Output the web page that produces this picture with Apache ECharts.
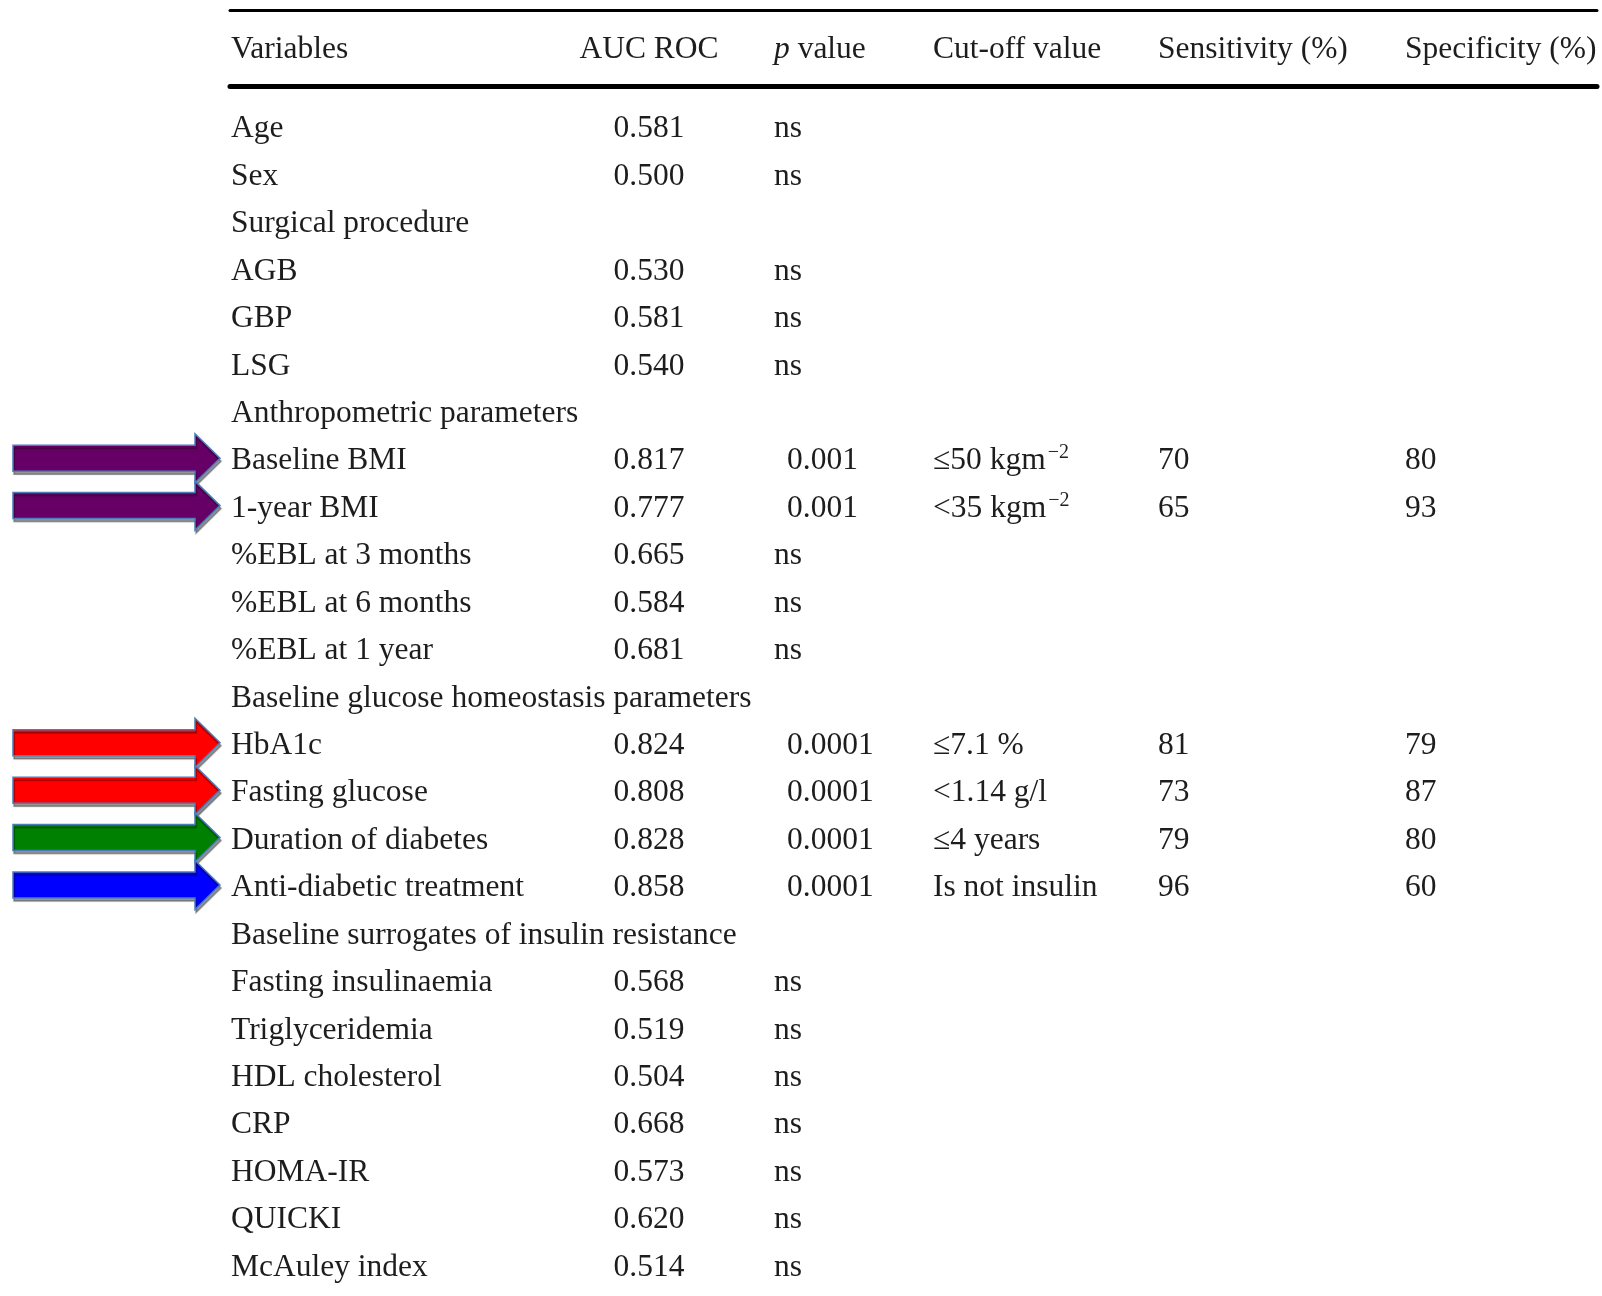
<!DOCTYPE html>
<html>
<head>
<meta charset="utf-8">
<script src="https://cdn.jsdelivr.net/npm/echarts@6/dist/echarts.min.js"></script>
<style>
  html, body { margin: 0; padding: 0; background: #ffffff; }
  #chart { width: 1602px; height: 1296px; }
</style>
</head>
<body>
<div id="chart"></div>
<script>
// ---- Table content -------------------------------------------------------
const columnHeaders = ['Variables', 'AUC ROC', 'p value', 'Cut-off value', 'Sensitivity (%)', 'Specificity (%)'];

const variables = [
  'Age', 'Sex', 'Surgical procedure', 'AGB', 'GBP', 'LSG',
  'Anthropometric parameters', 'Baseline BMI', '1-year BMI',
  '%EBL at 3 months', '%EBL at 6 months', '%EBL at 1 year',
  'Baseline glucose homeostasis parameters', 'HbA1c', 'Fasting glucose',
  'Duration of diabetes', 'Anti-diabetic treatment',
  'Baseline surrogates of insulin resistance', 'Fasting insulinaemia',
  'Triglyceridemia', 'HDL cholesterol', 'CRP', 'HOMA-IR', 'QUICKI', 'McAuley index'
];

const aucRoc = [
  0.581, 0.500, null, 0.530, 0.581, 0.540,
  null, 0.817, 0.777,
  0.665, 0.584, 0.681,
  null, 0.824, 0.808,
  0.828, 0.858,
  null, 0.568,
  0.519, 0.504, 0.668, 0.573, 0.620, 0.514
];

const pValues = [
  'ns', 'ns', null, 'ns', 'ns', 'ns',
  null, '0.001', '0.001',
  'ns', 'ns', 'ns',
  null, '0.0001', '0.0001',
  '0.0001', '0.0001',
  null, 'ns',
  'ns', 'ns', 'ns', 'ns', 'ns', 'ns'
];

// "^" marks the start of a superscript
const cutOffs = [
  null, null, null, null, null, null,
  null, '≤50 kgm^−2', '<35 kgm^−2',
  null, null, null,
  null, '≤7.1 %', '<1.14 g/l',
  '≤4 years', 'Is not insulin',
  null, null, null, null, null, null, null, null
];

const sensitivity = [
  null, null, null, null, null, null,
  null, 70, 65,
  null, null, null,
  null, 81, 73,
  79, 96,
  null, null, null, null, null, null, null, null
];

const specificity = [
  null, null, null, null, null, null,
  null, 80, 93,
  null, null, null,
  null, 79, 87,
  80, 60,
  null, null, null, null, null, null, null, null
];

// Rows flagged with an arrow, and the group each arrow belongs to
const arrowRows   = ['Baseline BMI', '1-year BMI', 'HbA1c', 'Fasting glucose', 'Duration of diabetes', 'Anti-diabetic treatment'];
const arrowGroups = ['bmi', 'bmi', 'glucose', 'glucose', 'duration', 'treatment'];

// ---- Layout & style ------------------------------------------------------
const GRID_LEFT = 230, GRID_RIGHT = 5, TABLE_W = 1602 - GRID_LEFT - GRID_RIGHT;
// column anchors along the table's horizontal scale (offset from the left rule end)
const COL_X = { variables: 1, auc: 419, pNs: 544, pNum: 557, cut: 703, sens: 928, spec: 1175 };
const ARROW = { tail: -217, headBase: -35, tip: -10, shaftHalf: 13, headHalf: 24.5, lift: -3 };
const ARROW_COLORS = { bmi: '#660066', glucose: '#ff0000', duration: '#008000', treatment: '#0000ff' };
const HEADER_TEXT_DROP = 2;

const FONT = '"Liberation Serif", "Times New Roman", serif';
const FONT_SIZE = 31.5;
const INK = '#1d1d1d';

function textEl(x, y, text, align, rich) {
  const style = {
    text: text,
    x: x, y: y,
    fill: INK,
    fontFamily: FONT,
    fontSize: FONT_SIZE,
    align: align, textAlign: align,
    verticalAlign: 'middle', textVerticalAlign: 'middle'
  };
  if (rich) style.rich = rich;
  return { type: 'text', style: style, silent: true };
}

const supRich = {
  t: { fontFamily: FONT, fontSize: FONT_SIZE, fill: INK, lineHeight: 36, verticalAlign: 'middle' },
  s: { fontFamily: FONT, fontSize: 20, fill: INK, lineHeight: 36, verticalAlign: 'top', padding: [0, 0, 0, 2] }
};

// build a column series: one text per non-empty cell, placed via the row axis
function columnSeries(values, colKey, align, formatter, xFor) {
  const cells = [];
  const texts = [];
  values.forEach((v, i) => {
    if (v === null || v === undefined) return;
    cells.push([xFor ? xFor(v) : COL_X[colKey], i]);
    texts.push(formatter ? formatter(v) : String(v));
  });
  return {
    type: 'custom',
    xAxisIndex: 0, yAxisIndex: 0,
    data: cells,
    clip: false,
    silent: true,
    renderItem: function (params, api) {
      const p = api.coord([api.value(0), api.value(1)]);
      const t = texts[params.dataIndex];
      if (t.indexOf('^') >= 0) {
        const parts = t.split('^');
        return textEl(p[0], p[1], '{t|' + parts[0] + '}{s|' + parts[1] + '}', align, supRich);
      }
      return textEl(p[0], p[1], t, align);
    }
  };
}

const headerAnchors = [
  [COL_X.variables, 'left'],
  [COL_X.auc, 'center'],
  [COL_X.pNs, 'left'],
  [COL_X.cut, 'left'],
  [COL_X.sens, 'left'],
  [COL_X.spec, 'left']
];

const headerSeries = {
  type: 'custom',
  xAxisIndex: 1, yAxisIndex: 1,
  data: headerAnchors.map(a => [a[0], 0]),
  clip: false,
  silent: true,
  renderItem: function (params, api) {
    const p = api.coord([api.value(0), api.value(1)]);
    const y = p[1] + HEADER_TEXT_DROP;
    const label = columnHeaders[params.dataIndex];
    const align = headerAnchors[params.dataIndex][1];
    if (label.indexOf('p ') === 0) {
      return textEl(p[0], y, '{i|p}{n|' + label.slice(1) + '}', align, {
        i: { fontFamily: FONT, fontSize: FONT_SIZE, fontStyle: 'italic', fill: INK },
        n: { fontFamily: FONT, fontSize: FONT_SIZE, fill: INK }
      });
    }
    return textEl(p[0], y, label, align);
  }
};

const arrowSeries = {
  type: 'custom',
  xAxisIndex: 0, yAxisIndex: 0,
  data: arrowRows.map(r => [0, variables.indexOf(r)]),
  clip: false,
  silent: true,
  renderItem: function (params, api) {
    const row = api.value(1);
    const y = api.coord([0, row])[1] + ARROW.lift;
    const xt = api.coord([ARROW.tail, row])[0];
    const xb = api.coord([ARROW.headBase, row])[0];
    const xp = api.coord([ARROW.tip, row])[0];
    const pts = [
      [xt, y - ARROW.shaftHalf], [xb, y - ARROW.shaftHalf], [xb, y - ARROW.headHalf],
      [xp, y], [xb, y + ARROW.headHalf], [xb, y + ARROW.shaftHalf], [xt, y + ARROW.shaftHalf]
    ];
    return {
      type: 'polygon',
      shape: { points: pts },
      style: {
        fill: ARROW_COLORS[arrowGroups[params.dataIndex]],
        stroke: '#4a7ebb',
        lineWidth: 1.5,
        shadowColor: 'rgba(0,0,0,0.4)',
        shadowBlur: 1,
        shadowOffsetX: 1,
        shadowOffsetY: 3
      }
    };
  }
};

const hiddenValueAxis = (gridIndex, extra) => Object.assign({
  type: 'value', gridIndex: gridIndex, min: 0, max: TABLE_W,
  axisLabel: { show: false }, axisTick: { show: false }, splitLine: { show: false }
}, extra);

const option = {
  backgroundColor: '#ffffff',
  animation: false,
  grid: [
    // table body
    { left: GRID_LEFT, right: GRID_RIGHT, top: 105.5, bottom: 4.9 },
    // header band between the two rules
    { left: GRID_LEFT, right: GRID_RIGHT, top: 10, height: 76 }
  ],
  xAxis: [
    hiddenValueAxis(0, { show: false }),
    hiddenValueAxis(1, { position: 'bottom', axisLine: { show: true, onZero: false, lineStyle: { color: '#000', width: 5 } } }),
    hiddenValueAxis(1, { position: 'top', axisLine: { show: true, onZero: false, lineStyle: { color: '#000', width: 3 } } })
  ],
  yAxis: [
    { type: 'category', gridIndex: 0, data: variables, inverse: true, show: false },
    { type: 'category', gridIndex: 1, data: ['header'], show: false }
  ],
  series: [
    headerSeries,
    columnSeries(variables, 'variables', 'left'),
    columnSeries(aucRoc, 'auc', 'center', v => v.toFixed(3)),
    columnSeries(pValues, 'pNum', 'left', null, v => (v === 'ns' ? COL_X.pNs : COL_X.pNum)),
    columnSeries(cutOffs, 'cut', 'left'),
    columnSeries(sensitivity, 'sens', 'left'),
    columnSeries(specificity, 'spec', 'left'),
    arrowSeries
  ]
};

const chart = echarts.init(document.getElementById('chart'), null, { renderer: 'canvas' });
chart.setOption(option);
</script>
</body>
</html>
